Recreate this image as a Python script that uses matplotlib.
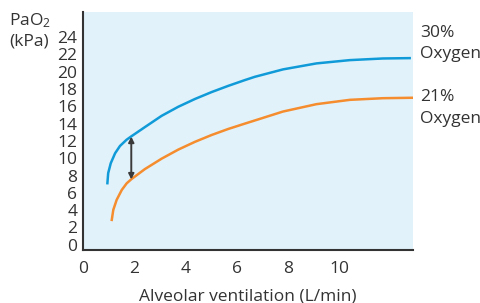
import matplotlib.pyplot as plt

# values
vent_30 = [0.95, 0.98, 1.08, 1.25, 1.44, 1.70, 1.89, 2.41, 3.06, 3.71, 4.36, 5.01, 5.66,
           6.30, 6.69, 7.79, 9.09, 10.39, 11.68, 12.72]
pao2_30 = [7.12, 8.27, 9.42, 10.58, 11.42, 12.15, 12.55, 13.6, 14.9, 15.95, 16.85, 17.65, 18.37,
           19.03, 19.41, 20.27, 20.96, 21.34, 21.53, 21.57]

vent_21 = [1.12, 1.18, 1.31, 1.51, 1.70, 1.89, 2.41, 3.06, 3.71, 4.36, 5.01, 5.65,
           6.30, 7.79, 9.09, 10.39, 11.68, 12.83]
pao2_21 = [2.88, 4.04, 5.19, 6.34, 7.10, 7.60, 8.75, 9.95, 11.0, 11.9, 12.69, 13.38,
           14.0, 15.4, 16.25, 16.75, 16.94, 16.99]

x_ticks = [0, 2, 4, 6, 8, 10]
y_ticks = list(range(0, 26, 2))

arrow_x = 1.88
arrow_top = 12.5
arrow_bottom = 7.55

plt.rcParams['font.family'] = ['Open Sans', 'DejaVu Sans']
plt.rcParams['mathtext.default'] = 'regular'
txt = '#333333'
fs = 12.5

fig = plt.figure(figsize=(4.8, 3.03), dpi=100)
ax = fig.add_axes([83 / 480, 53 / 303, 330 / 480, 238 / 303])
ax.set_facecolor('#e1f2fb')

ax.plot(vent_30, pao2_30, color='#109bd8', lw=1.8, solid_joinstyle='round')
ax.plot(vent_21, pao2_21, color='#f58d2e', lw=1.8, solid_joinstyle='round')

ax.annotate('', xy=(arrow_x, arrow_bottom), xytext=(arrow_x, arrow_top),
            arrowprops=dict(arrowstyle='<|-|>', color='#3a3a3a', lw=1.4,
                            mutation_scale=8, shrinkA=0, shrinkB=0))

ax.set_xlim(0, 12.85)
ax.set_ylim(-0.6, 26.9)
ax.set_xticks(x_ticks)
ax.set_yticks(y_ticks)
ax.tick_params(length=0, labelsize=fs, colors=txt)
ax.tick_params(axis='x', pad=8)
ax.tick_params(axis='y', pad=4)

for s in ['top', 'right']:
    ax.spines[s].set_visible(False)
for s in ['left', 'bottom']:
    ax.spines[s].set_color('#333333')
    ax.spines[s].set_linewidth(1.5)

ax.set_xlabel('Alveolar ventilation (L/min)', fontsize=fs, color=txt, labelpad=8)

fig.text(9 / 480, 1 - 21 / 303, 'PaO$_2$', fontsize=fs, color=txt, va='center', ha='left')
fig.text(9 / 480, 1 - 42 / 303, '(kPa)', fontsize=fs, color=txt, va='center', ha='left')

fig.text(420 / 480, 1 - 33 / 303, '30%', fontsize=fs, color=txt, va='center', ha='left')
fig.text(420 / 480, 1 - 54 / 303, 'Oxygen', fontsize=fs, color=txt, va='center', ha='left')
fig.text(420 / 480, 1 - 97 / 303, '21%', fontsize=fs, color=txt, va='center', ha='left')
fig.text(420 / 480, 1 - 119 / 303, 'Oxygen', fontsize=fs, color=txt, va='center', ha='left')

fig.savefig('out.png', dpi=100)
